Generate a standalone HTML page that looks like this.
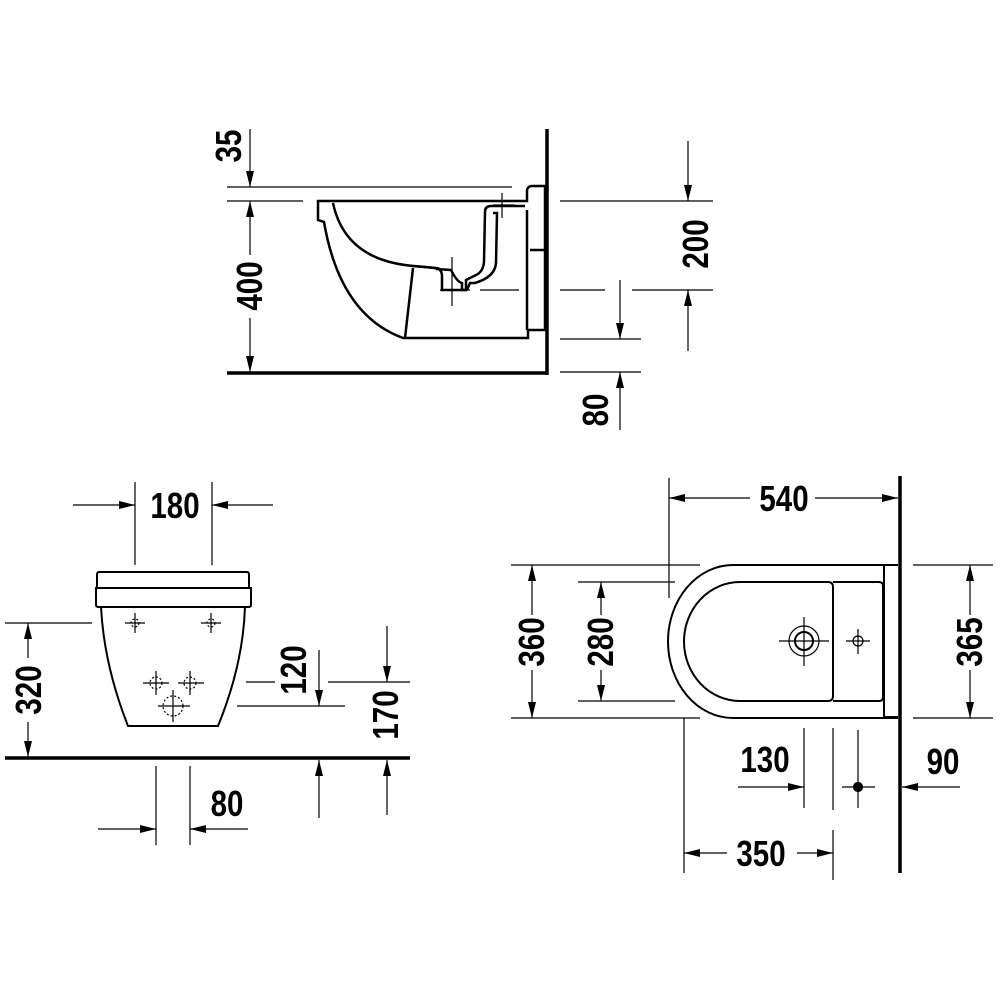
<!DOCTYPE html>
<html><head><meta charset="utf-8"><style>
html,body{margin:0;padding:0;background:#fff}
svg{display:block}
text{font-family:"Liberation Sans Narrow","Liberation Sans",sans-serif;font-weight:bold;font-size:36px;fill:#000}
</style></head><body>
<svg width="1000" height="1000" viewBox="0 0 1000 1000" xmlns="http://www.w3.org/2000/svg">
<defs>
<marker id="a" viewBox="0 0 16 8" refX="16" refY="4" markerWidth="16" markerHeight="8" markerUnits="userSpaceOnUse" orient="auto"><path d="M0,0 L16,4 L0,8 Z" fill="#000"/></marker>
<marker id="s" viewBox="0 0 16 8" refX="0" refY="4" markerWidth="16" markerHeight="8" markerUnits="userSpaceOnUse" orient="auto"><path d="M16,0 L0,4 L16,8 Z" fill="#000"/></marker>
</defs>
<g stroke="#000" fill="none" stroke-width="1.2">
<!-- ===== TOP SIDE VIEW ===== -->
<line x1="547" y1="129" x2="547" y2="375" stroke-width="3.5"/>
<line x1="227" y1="373" x2="548" y2="373" stroke-width="3.5"/>
<line x1="227" y1="187" x2="512" y2="187"/>
<line x1="227" y1="201" x2="303" y2="201"/>
<line x1="250" y1="129" x2="250" y2="187" marker-end="url(#a)"/>
<line x1="250" y1="201" x2="250" y2="255" marker-start="url(#s)"/>
<line x1="250" y1="318" x2="250" y2="372" marker-end="url(#a)"/>
<g stroke-width="2.5">
<path d="M318,201 L527,201 L527,190 Q528,186 532,186 L545,186 L545,330 L528,330 L528,338 L403,338 Q340,315 324,222 L318,220 Z"/>
<path d="M333,203 Q345,260 413,266 Q440,268 436,269 L451,270 Q457,282 462,283 L462,290 L467,290"/>
<path d="M413,268 L405,338"/>
<path d="M413,266 L436,268 Q441,268 442,275 L442,290 L466,290 L466,280 L476,275 Q483,272 484,262 L485,212 Q485,206 491,206 L525,206"/>
<path d="M493,213 L497,213 L496,263 Q495,277 475,283 L470,283 L467,290"/>
<path d="M527,210 L527,330 M530,250 L544,250"/>
</g>
<path d="M502,193 L502,218 M493,205 L515,205 M452,257 L452,306 M440,290 L470,290"/>
<line x1="560" y1="201" x2="713" y2="201"/>
<line x1="688" y1="141" x2="688" y2="201" marker-end="url(#a)"/>
<line x1="480" y1="290" x2="519" y2="290"/>
<line x1="560" y1="290" x2="605" y2="290"/>
<line x1="632" y1="290" x2="713" y2="290"/>
<line x1="688" y1="351" x2="688" y2="290" marker-end="url(#a)"/>
<line x1="560" y1="339" x2="641" y2="339"/>
<line x1="560" y1="372" x2="641" y2="372"/>
<line x1="620" y1="280" x2="620" y2="339" marker-end="url(#a)"/>
<line x1="620" y1="430" x2="620" y2="372" marker-end="url(#a)"/>

<!-- ===== BOTTOM LEFT FRONT VIEW ===== -->
<line x1="135" y1="482" x2="135" y2="565"/>
<line x1="212" y1="482" x2="212" y2="565"/>
<line x1="73" y1="505" x2="135" y2="505" marker-end="url(#a)"/>
<line x1="273" y1="505" x2="212" y2="505" marker-end="url(#a)"/>
<g stroke-width="2">
<path d="M99,572 L247,572 Q249,572 249,575 L249,588 L97,588 L97,575 Q97,572 99,572 Z"/>
<path d="M96,588 L251,588 L251,605 Q251,607 248,607 L99,607 Q96,607 96,605 Z"/>
<path d="M101,607 Q104,665 128,726 L218,726 Q243,665 245,607"/>
</g>
<line x1="5" y1="623" x2="92" y2="623"/>
<line x1="28" y1="623" x2="28" y2="658" marker-start="url(#s)"/>
<line x1="28" y1="722" x2="28" y2="757" marker-end="url(#a)"/>
<line x1="5" y1="758" x2="410" y2="758" stroke-width="3.5"/>
<line x1="246" y1="682" x2="275" y2="682"/>
<line x1="237" y1="706" x2="345" y2="706"/>
<line x1="319" y1="650" x2="319" y2="706" marker-end="url(#a)"/>
<line x1="319" y1="818" x2="319" y2="760" marker-end="url(#a)"/>
<line x1="328" y1="682" x2="410" y2="682"/>
<line x1="387" y1="626" x2="387" y2="682" marker-end="url(#a)"/>
<line x1="387" y1="815" x2="387" y2="760" marker-end="url(#a)"/>
<line x1="156" y1="766" x2="156" y2="845"/>
<line x1="190" y1="766" x2="190" y2="845"/>
<line x1="98" y1="829" x2="156" y2="829" marker-end="url(#a)"/>
<line x1="248" y1="829" x2="190" y2="829" marker-end="url(#a)"/>
<path d="M125,623 L145,623 M135,613 L135,633 M201,623 L221,623 M211,613 L211,633 M143,683 L169,683 M156,671 L156,695 M178,683 L204,683 M190,671 L190,695 M158,706 L190,706 M173,690 L173,722"/>
<g stroke-dasharray="2,2"><circle cx="156" cy="683" r="6"/><circle cx="190" cy="683" r="6"/><circle cx="173" cy="706" r="10"/><circle cx="135" cy="623" r="4"/><circle cx="211" cy="623" r="4"/></g>

<!-- ===== RIGHT PLAN VIEW ===== -->
<line x1="900" y1="476" x2="900" y2="873" stroke-width="3.5"/>
<line x1="669" y1="478" x2="669" y2="598"/>
<line x1="669" y1="498" x2="750" y2="498" marker-start="url(#s)"/>
<line x1="815" y1="498" x2="898" y2="498" marker-end="url(#a)"/>
<line x1="511" y1="565" x2="700" y2="565"/>
<line x1="511" y1="718" x2="700" y2="718"/>
<line x1="532" y1="565" x2="532" y2="615" marker-start="url(#s)"/>
<line x1="532" y1="670" x2="532" y2="718" marker-end="url(#a)"/>
<line x1="578" y1="582" x2="675" y2="582"/>
<line x1="578" y1="701" x2="675" y2="701"/>
<line x1="601" y1="582" x2="601" y2="615" marker-start="url(#s)"/>
<line x1="601" y1="670" x2="601" y2="701" marker-end="url(#a)"/>
<line x1="913" y1="565" x2="993" y2="565"/>
<line x1="913" y1="718" x2="993" y2="718"/>
<line x1="970" y1="565" x2="970" y2="615" marker-start="url(#s)"/>
<line x1="970" y1="670" x2="970" y2="718" marker-end="url(#a)"/>
<g stroke-width="2">
<path d="M733,565 L898,565 M733,718 L898,718 M733,565 A65,76.5 0 0 0 733,718"/>
<path d="M884,566 L884,717 L898,717"/>
<path d="M740,582 L828,582 Q833,582 833,587 L833,696 Q833,701 828,701 L740,701 A56,59.5 0 0 1 740,582 Z"/>
<path d="M833,582 L879,582 Q883,582 883,586 L883,697 Q883,701 879,701 L833,701"/>
</g>
<circle cx="804" cy="641" r="15"/>
<circle cx="804" cy="641" r="9" stroke-width="2"/>
<path d="M779,641 L829,641 M804,617 L804,666"/>
<circle cx="858" cy="641" r="5"/>
<path d="M846,641 L870,641 M858,629 L858,654"/>
<line x1="804" y1="728" x2="804" y2="808"/>
<line x1="833" y1="728" x2="833" y2="810"/>
<line x1="833" y1="830" x2="833" y2="880"/>
<line x1="738" y1="787" x2="804" y2="787" marker-end="url(#a)"/>
<line x1="842" y1="787" x2="875" y2="787"/>
<line x1="858" y1="730" x2="858" y2="808"/>
<circle cx="858" cy="787" r="4.5" fill="#000"/>
<line x1="960" y1="787" x2="902" y2="787" marker-end="url(#a)"/>
<line x1="684" y1="718" x2="684" y2="873"/>
<line x1="684" y1="853" x2="727" y2="853" marker-start="url(#s)"/>
<line x1="797" y1="853" x2="833" y2="853" marker-end="url(#a)"/>
</g>
<!-- TEXT -->
<text transform="translate(241,146) rotate(-90) scale(0.82,1)" text-anchor="middle">35</text>
<text transform="translate(262,286) rotate(-90) scale(0.82,1)" text-anchor="middle">400</text>
<text transform="translate(708,244) rotate(-90) scale(0.82,1)" text-anchor="middle">200</text>
<text transform="translate(608,410) rotate(-90) scale(0.82,1)" text-anchor="middle">80</text>
<text transform="translate(175,518) scale(0.82,1)" text-anchor="middle">180</text>
<text transform="translate(41,690) rotate(-90) scale(0.82,1)" text-anchor="middle">320</text>
<text transform="translate(306,670) rotate(-90) scale(0.82,1)" text-anchor="middle">120</text>
<text transform="translate(398,715) rotate(-90) scale(0.82,1)" text-anchor="middle">170</text>
<text transform="translate(227,816) scale(0.82,1)" text-anchor="middle">80</text>
<text transform="translate(784,511) scale(0.82,1)" text-anchor="middle">540</text>
<text transform="translate(544,642) rotate(-90) scale(0.82,1)" text-anchor="middle">360</text>
<text transform="translate(613,642) rotate(-90) scale(0.82,1)" text-anchor="middle">280</text>
<text transform="translate(982,642) rotate(-90) scale(0.82,1)" text-anchor="middle">365</text>
<text transform="translate(765,772) scale(0.82,1)" text-anchor="middle">130</text>
<text transform="translate(943,774) scale(0.82,1)" text-anchor="middle">90</text>
<text transform="translate(761,866) scale(0.82,1)" text-anchor="middle">350</text>
</svg>
</body></html>
